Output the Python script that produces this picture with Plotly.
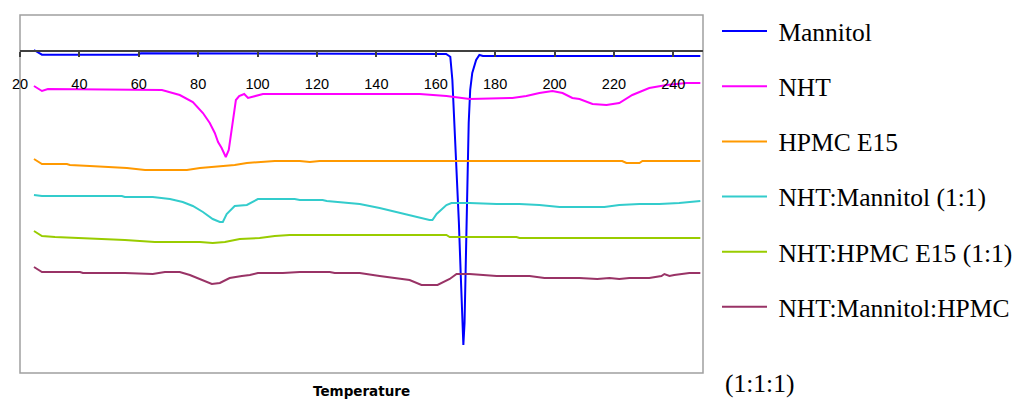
import plotly.graph_objects as go

# ---- data (temperature °C, heat-flow in arbitrary units) ----
mannitol_t = [24.7, 27.4, 59.7, 60.7, 163.5, 164.9, 165.6, 166.3, 167.1, 167.8, 168.4, 168.8, 169.3,
              169.7, 170.0, 170.4, 170.8, 171.1, 171.6, 172.3, 173.6, 174.7, 175.9, 209.4, 210.4, 249.1]
mannitol_y = [0.1, -0.37, -0.37, -0.23, -0.3, -0.57, -2.9, -7.2, -12.2, -17.2, -22.2, -26.2, -29.4,
              -27.2, -22.2, -17.2, -12.2, -7.2, -3.9, -2.2, -0.9, -0.4, -0.5, -0.57, -0.5, -0.5]

nht_t = [24.7, 27.4, 29.4, 67.8, 73.8, 78.2, 81.6, 83.9, 85.6, 86.7, 87.9, 89.3, 90.3, 91.2, 92.0, 92.7,
         93.8, 95.5, 96.8, 99.1, 101.8, 154.6, 163.6, 171.4, 185.8, 190.5, 194.9, 199.3, 202.7, 206.0,
         208.4, 212.8, 217.5, 221.8, 226.2, 231.9, 237.7, 244.4, 249.1]
nht_y = [-3.5, -4.0, -3.8, -3.9, -4.4, -5.1, -6.2, -7.2, -8.2, -9.1, -9.7, -10.6, -9.9, -7.9, -5.9, -4.9,
         -4.5, -4.3, -4.7, -4.5, -4.3, -4.3, -4.5, -4.8, -4.7, -4.5, -4.2, -4.0, -4.2, -4.7,
         -4.8, -5.3, -5.4, -5.2, -4.4, -3.7, -3.4, -3.2, -3.2]

hpmc_t = [24.7, 27.4, 35.8, 36.8, 43.5, 56.0, 62.1, 76.2, 80.6, 87.3, 92.3, 96.4, 100.1, 105.8, 114.2,
          117.6, 120.9, 222.8, 224.2, 228.6, 229.6, 249.1]
hpmc_y = [-10.8, -11.3, -11.3, -11.4, -11.5, -11.7, -11.9, -11.9, -11.7, -11.5, -11.4, -11.2, -11.1, -11.0, -11.0,
          -11.1, -11.0, -11.0, -11.2, -11.2, -11.0, -11.0]

nht_man_t = [24.7, 27.4, 54.3, 55.3, 64.7, 70.5, 74.8, 78.2, 81.6, 84.9, 87.3, 88.3, 89.6, 92.3, 96.4,
             100.1, 112.5, 114.2, 121.9, 123.3, 127.0, 134.4, 141.1, 147.8, 154.6, 157.9, 158.9, 160.3,
             163.6, 165.3, 171.4, 180.5, 188.2, 194.9, 201.7, 216.8, 221.8, 228.6, 235.3, 242.0, 249.1]
nht_man_y = [-14.4, -14.5, -14.5, -14.6, -14.6, -14.8, -15.1, -15.5, -16.1, -16.8, -17.1, -17.1, -16.3, -15.5, -15.4,
             -14.8, -14.8, -14.9, -14.9, -15.0, -15.1, -15.3, -15.7, -16.2, -16.7, -16.9, -16.9, -16.3,
             -15.4, -15.2, -15.2, -15.3, -15.3, -15.4, -15.6, -15.6, -15.4, -15.3, -15.3, -15.2, -15.0]

nht_hpmc_t = [24.7, 27.4, 31.8, 40.2, 48.6, 55.3, 65.4, 80.6, 84.9, 89.0, 94.0, 100.7, 105.8, 110.8,
              163.6, 164.7, 187.2, 188.2, 249.1]
nht_hpmc_y = [-18.0, -18.5, -18.6, -18.7, -18.8, -18.9, -19.1, -19.1, -19.2, -19.1, -18.8, -18.7, -18.5, -18.4,
              -18.4, -18.6, -18.6, -18.7, -18.7]

tern_t = [24.7, 27.4, 40.2, 41.2, 55.3, 64.7, 68.8, 73.8, 77.2, 80.6, 84.6, 87.3, 90.6, 94.7, 97.4, 100.1,
          108.5, 114.2, 124.3, 126.0, 134.4, 141.1, 146.2, 151.2, 155.2, 160.6, 164.7, 167.0, 171.4, 180.5,
          191.6, 196.6, 208.4, 214.4, 218.5, 221.8, 225.2, 231.9, 236.0, 237.0, 238.7, 240.3, 245.4, 249.1]
tern_y = [-21.6, -22.1, -22.1, -22.2, -22.2, -22.3, -22.1, -22.1, -22.4, -22.8, -23.3, -23.2, -22.7, -22.5, -22.4, -22.2,
          -22.2, -22.1, -22.1, -22.2, -22.2, -22.5, -22.7, -22.9, -23.4, -23.4, -22.8, -22.3, -22.3, -22.5,
          -22.5, -22.7, -22.7, -22.8, -22.7, -22.8, -22.7, -22.7, -22.5, -22.3, -22.5, -22.4, -22.2, -22.2]

series = [
    ("Mannitol", mannitol_t, mannitol_y, "#0000FF"),
    ("NHT", nht_t, nht_y, "#FF00FF"),
    ("HPMC E15", hpmc_t, hpmc_y, "#FF9900"),
    ("NHT:Mannitol (1:1)", nht_man_t, nht_man_y, "#33CCCC"),
    ("NHT:HPMC E15 (1:1)", nht_hpmc_t, nht_hpmc_y, "#99CC00"),
    ("NHT:Mannitol:HPMC", tern_t, tern_y, "#993366"),
]

x_ticks = [20, 40, 60, 80, 100, 120, 140, 160, 180, 200, 220, 240]
x_range = [20, 250]
y_range = [-32.2, 3.6]

W, H = 1017, 393  # page body has an 8px margin

fig = go.Figure()
for i, (name, xs, ys, color) in enumerate(series):
    fig.add_trace(go.Scatter(x=xs, y=ys, mode="lines", name="\u00a0" + name,
                             legendgroup=f"g{i}",
                             line=dict(color=color, width=2)))

axis_pos = (0 - y_range[0]) / (y_range[1] - y_range[0])

fig.update_layout(
    width=W, height=H,
    margin=dict(l=12, r=322, t=7, b=28, autoexpand=False),
    paper_bgcolor="white", plot_bgcolor="white",
    xaxis=dict(range=x_range, tickvals=x_ticks, ticktext=[str(v) for v in x_ticks],
               anchor="free", position=axis_pos, side="bottom", automargin=False,
               ticks="outside", ticklen=5, tickwidth=1.5, tickcolor="#404040",
               showline=True, linecolor="#404040", linewidth=1.5,
               showgrid=False, zeroline=False,
               ticklabelstandoff=15,
               tickfont=dict(family="Liberation Sans, Arial", size=14.5, color="black")),
    yaxis=dict(range=y_range, visible=False, showgrid=False, zeroline=False, automargin=False),
    showlegend=True,
    legend=dict(xref="container", yref="container", x=709 / W, y=1,
                xanchor="left", yanchor="top",
                font=dict(family="Liberation Serif, Times New Roman", size=25.5, color="black"),
                tracegroupgap=19, itemwidth=45, bgcolor="rgba(0,0,0,0)"),
    shapes=[dict(type="rect", xref="x domain", yref="y domain", x0=0, x1=1, y0=0, y1=1,
                 line=dict(color="#A0A0A0", width=1.5), layer="below")],
    annotations=[
        dict(text="Temperature", xref="paper", yref="paper", x=0.5, y=(373 - 391) / 358,
             xanchor="center", yanchor="middle", showarrow=False,
             font=dict(family="DejaVu Sans", size=13.5, color="black", weight="bold")),
        dict(text="(1:1:1)", xref="paper", yref="paper", x=(723 - 20) / 683, y=(373 - 383) / 358,
             xanchor="left", yanchor="middle", showarrow=False,
             font=dict(family="Liberation Serif, Times New Roman", size=25.5, color="black")),
    ],
)
try:
    fig.update_layout(legend_maxheight=H)
except ValueError:
    pass

fig.write_html("out.html")
